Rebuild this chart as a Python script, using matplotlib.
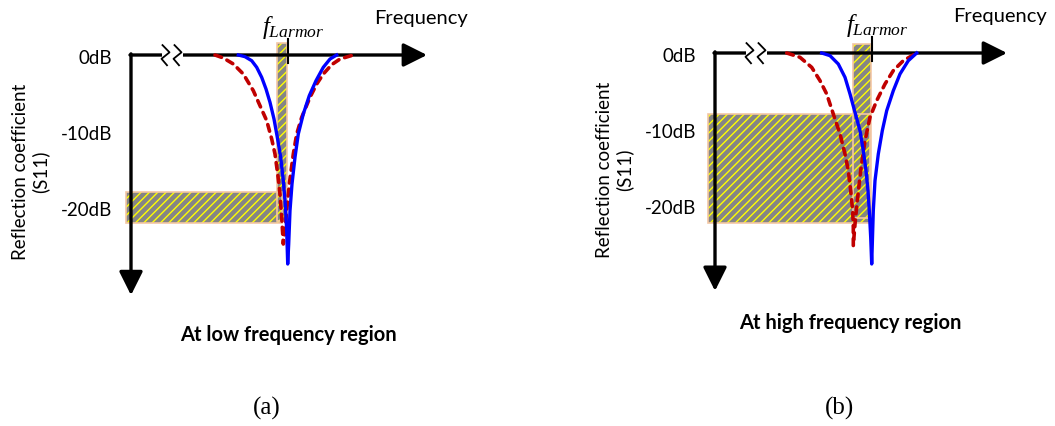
import matplotlib
matplotlib.use("Agg")
import matplotlib.pyplot as plt
from matplotlib.patches import Rectangle

# S11 sketches, frequency in arbitrary units (0 = vertical axis), S11 in dB
# (a) low frequency region
freq_blue_a = [10.73, 11.40, 12.07, 12.57, 13.07, 13.50, 13.90, 14.30, 14.63, 14.97, 15.23, 15.43, 15.57, 15.67,
               15.77, 15.90, 16.10, 16.40, 16.73, 17.23, 17.83, 18.50, 19.23, 19.90, 20.57]
s11_blue_a = [0, -0.22, -0.75, -1.62, -2.94, -4.47, -6.23, -8.42, -10.83, -13.46, -16.54, -19.61, -23.11, -27.5,
              -24.87, -20.48, -16.97, -13.46, -10.39, -7.76, -5.35, -3.38, -1.62, -0.53, 0]
freq_red_a = [8.40, 9.23, 10.23, 11.23, 12.23, 12.90, 13.57, 14.07, 14.40, 14.67, 14.90, 15.07, 15.23,
              15.40, 15.57, 15.83, 16.23, 16.57, 17.07, 17.90, 18.57, 19.23, 20.07, 20.90, 22.23]
s11_red_a = [0, -0.39, -1.18, -2.5, -4.69, -6.67, -8.64, -11.05, -13.03, -15.66, -18.29, -21.36, -24.87,
             -23.11, -20.48, -16.97, -13.03, -10.39, -8.2, -5.57, -3.82, -2.5, -1.27, -0.53, 0]

# (b) high frequency region
freq_blue_b = [10.67, 11.50, 12.33, 13.00, 13.50, 14.00, 14.50, 14.83, 15.10, 15.30, 15.43, 15.57, 15.67,
               15.73, 15.83, 16.00, 16.33, 16.73, 17.17, 17.83, 18.50, 19.33, 20.17]
s11_blue_b = [0, -0.35, -1.45, -3.2, -5.39, -7.81, -10.22, -12.85, -15.48, -18.11, -20.75, -24.25, -27.76,
              -25.13, -20.75, -16.8, -13.29, -10.22, -7.59, -4.96, -2.76, -1.01, 0]
freq_red_b = [7.17, 8.50, 9.67, 10.50, 11.17, 11.83, 12.50, 13.00, 13.33, 13.57, 13.77, 13.83, 13.83,
              14.00, 14.23, 14.57, 15.00, 15.50, 16.17, 17.00, 17.83, 18.83, 20.17]
s11_red_b = [0, -0.57, -1.89, -3.64, -5.39, -8.03, -10.66, -13.29, -15.48, -18.11, -20.75, -22.94, -25.35,
             -22.5, -19.43, -15.48, -11.54, -8.46, -6.27, -4.08, -2.32, -1.01, 0]

f_larmor = 15.7
db_ticks = [0, -10, -20]
db_labels = ["0dB", "-10dB", "-20dB"]

# hatched bands: (f_start, f_end, db_top, db_bottom)
band_a_wide = (-0.5, 15.1, -18.0, -22.1)
band_a_narrow = (14.6, 15.6, 1.6, -21.8)
band_b_wide = (-0.7, 15.5, -8.0, -22.4)
band_b_narrow = (13.8, 15.6, 1.2, -21.7)

W, H = 1055, 427
PX_F, PX_DB = 10.0, 7.6

plt.rcParams['mathtext.fontset'] = 'custom'
plt.rcParams['mathtext.it'] = 'Liberation Serif:italic'
plt.rcParams['mathtext.rm'] = 'Liberation Serif'
plt.rcParams['hatch.linewidth'] = 1.0
sans = 'Lato'

fig = plt.figure(figsize=(W / 100, H / 100), dpi=100)


def make_axes(ox, oy):
    # axes whose data origin sits on pixel (ox, oy)
    l, r, t, b = ox - 131, ox + 320, oy - 56, oy + 300
    ax = fig.add_axes([l / W, 1 - b / H, (r - l) / W, (b - t) / H])
    ax.set_xlim((l - ox) / PX_F, (r - ox) / PX_F)
    ax.set_ylim(-(b - oy) / PX_DB, (oy - t) / PX_DB)
    ax.axis('off')
    return ax


def band(ax, f0, f1, top, bottom):
    ax.add_patch(Rectangle((f0, bottom), f1 - f0, top - bottom, facecolor='#858585',
                           edgecolor='#ffff00', hatch='////', lw=0, zorder=1))
    ax.add_patch(Rectangle((f0, bottom), f1 - f0, top - bottom, fill=False,
                           edgecolor='#f3c7a4', lw=1.2, zorder=1.2))


def draw_panel(ax, fb, sb, fr, sr, bands, f_end, db_end, f_text):
    for bd in bands:
        band(ax, *bd)
    arrow = dict(arrowstyle='-|>', lw=2.4, color='k', mutation_scale=36, shrinkA=0, shrinkB=0)
    ax.annotate('', xy=(f_end, 0), xytext=(-0.1, 0), arrowprops=arrow, zorder=2)
    ax.annotate('', xy=(0, db_end), xytext=(0, 0.15), arrowprops=arrow, zorder=2)
    # axis break
    ax.plot([3.1, 5.2], [0, 0], color='white', lw=4, solid_capstyle='butt', zorder=2.1)
    for fx in (3.4, 4.6):
        ax.plot([fx - 0.25, fx + 0.45, fx - 0.35, fx + 0.2], [1.3, 0.35, -0.5, -1.35],
                color='k', lw=1.3, zorder=2.2)
    ax.plot(fr, sr, color='#c00000', lw=2.6, ls=(0, (1.9, 1.7)), dash_capstyle='round', zorder=3)
    ax.plot(fb, sb, color='#0000ff', lw=2.4, zorder=3.1)
    ax.plot([f_larmor, f_larmor], [2.1, -1.0], color='k', lw=1.5, zorder=4)
    ax.text(f_larmor + 0.55, 2.9, r'$f_{Larmor}$', fontsize=18, ha='center', va='baseline')
    ax.text(f_text, 5.0, 'Frequency', fontsize=14.5, family=sans, ha='center', va='center')
    for d, lab in zip(db_ticks, db_labels):
        ax.text(-1.85, d - 0.3, lab, fontsize=13.5, family=sans, ha='right', va='center')
    ax.text(-10.0, -15.2, 'Reflection coefficient\n(S11)', fontsize=13.5, family=sans,
            rotation=90, ha='center', va='center', multialignment='center', linespacing=1.15)


ax_a = make_axes(131, 56)
draw_panel(ax_a, freq_blue_a, s11_blue_a, freq_red_a, s11_red_a,
           [band_a_wide, band_a_narrow], 29.6, -31.6, 29.0)
ax_b = make_axes(715, 54)
draw_panel(ax_b, freq_blue_b, s11_blue_b, freq_red_b, s11_red_b,
           [band_b_wide, band_b_narrow], 29.2, -31.3, 28.5)

fig.text(288 / W, 1 - 335 / H, 'At low frequency region', fontsize=14.5, family=sans,
         weight='bold', ha='center', va='center')
fig.text(850 / W, 1 - 323 / H, 'At high frequency region', fontsize=14.5, family=sans,
         weight='bold', ha='center', va='center')
fig.text(267 / W, 1 - 408 / H, '(a)', fontsize=18, family='Liberation Serif', ha='center', va='center')
fig.text(840 / W, 1 - 408 / H, '(b)', fontsize=18, family='Liberation Serif', ha='center', va='center')

fig.savefig('out.png', dpi=100)
